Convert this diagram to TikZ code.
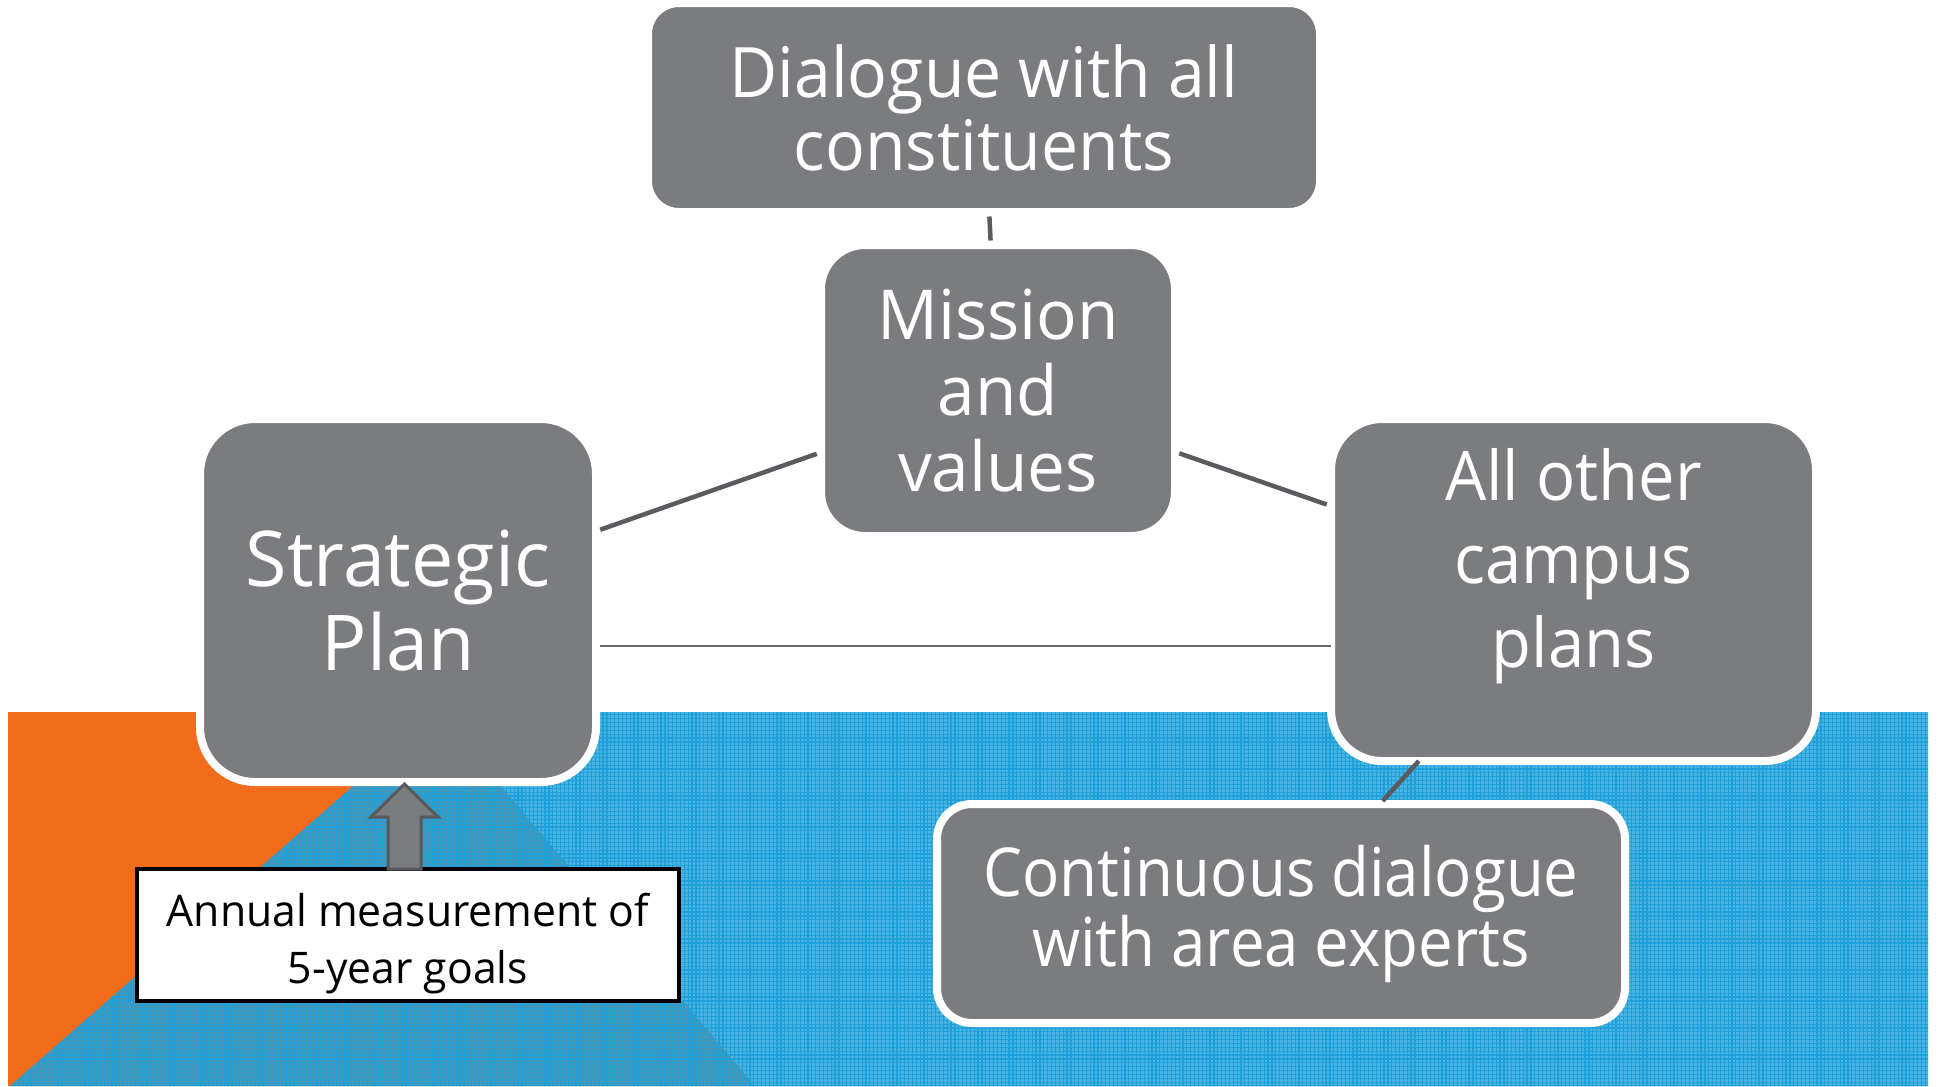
\documentclass[tikz,border=0pt]{standalone}
\usepackage{fontspec}
\setmainfont[FakeStretch=0.98]{Open Sans}
\newfontfamily\narrowfont[FakeStretch=0.95]{Open Sans}
\newfontfamily\narrowerfont[FakeStretch=0.915]{Open Sans}
\usepackage{tikz}
\usetikzlibrary{calc}
\usetikzlibrary{patterns.meta}

\definecolor{boxgray}{HTML}{7B7C80}
\definecolor{linkgray}{HTML}{5A5B5E}
\definecolor{arrowline}{HTML}{58595B}
\definecolor{bgorange}{HTML}{F36C1B}
\definecolor{bgblue}{HTML}{1EA0DB}

\begin{document}
\begin{tikzpicture}[x=0.1mm,y=-0.1mm]
    \tikzstyle{box}=[
      draw=white,
      line width=0.8mm,
      fill=boxgray,
      text=white,
      align=center,
      inner sep=0pt,
      outer sep=0pt,
    ]
    \tikzstyle{note}=[draw=black, line width=0.4mm, fill=white, align=center,
      inner sep=0pt, outer sep=0pt, minimum width=54.2mm, minimum height=13.2mm,
      font=\fontsize{12.4pt}{16.3pt}\selectfont]
    \tikzstyle{link}=[draw=linkgray, line width=0.45mm, shorten <=0.45mm, shorten >=0.45mm]
    \tikzstyle{thinlink}=[draw=linkgray!90, line width=0.27mm]
    \tikzstyle{blockarrow}=[draw=arrowline, fill=boxgray, line width=0.3mm, line join=miter]

    \useasboundingbox (0,0) rectangle (1940,1086);

    % background band
    \fill[bgorange] (8,712) -- (438,712) -- (755,1086) -- (8,1086) -- cycle;
    \fill[bgblue, fill opacity=0.8] (438,712) -- (1928,712) -- (1928,1086) -- (10,1086) -- cycle;
    \fill[pattern={Lines[angle=0,distance=1.1pt,line width=0.35pt]}, pattern color=bgblue]
      (438,712) -- (1928,712) -- (1928,1086) -- (10,1086) -- cycle;
    \fill[pattern={Lines[angle=90,distance=1.1pt,line width=0.35pt]}, pattern color=bgblue]
      (438,712) -- (1928,712) -- (1928,1086) -- (10,1086) -- cycle;

    \node[box, minimum width=67.2mm, minimum height=20.9mm, rounded corners=3.1mm,
      font=\narrowfont\fontsize{19.8pt}{20.8pt}\selectfont] (dl) at (984,107.5) {Dialogue with all\\constituents};
    \node[box, minimum width=35.4mm, minimum height=29.1mm, rounded corners=4.4mm,
      font=\fontsize{19.6pt}{21.6pt}\selectfont] (mv) at (998,390.5) {Mission\\and\\values};
    \node[box, minimum width=39.6mm, minimum height=36.3mm, rounded corners=5.5mm,
      font=\fontsize{21.9pt}{23.9pt}\selectfont] (sp) at (398,600.5) {Strategic\\Plan};
    \node[box, minimum width=48.5mm, minimum height=34.2mm, rounded corners=5.1mm] (ao) at (1573.5,590) {};
    \node[text=white, align=center, font=\narrowfont\fontsize{19.5pt}{23.8pt}\selectfont] (aotext)
      at ($(ao.center)+(0,-24)$) {All other\\campus\\plans};
    \node[box, minimum width=68.8mm, minimum height=21.9mm, rounded corners=3.5mm,
      font=\narrowerfont\fontsize{19.2pt}{19.9pt}\selectfont] (cd) at (1281,913.5) {Continuous dialogue\\with area experts};
    \node[note] (am) at (408,935) {\rule{0pt}{5.1mm}Annual measurement of\\5-year goals};

    % connectors
    \draw[link] (dl) -- (mv);
    \draw[link] (sp) -- (mv);
    \draw[link] (mv) -- (ao);
    \draw[link, shorten <=0mm, shorten >=0.4mm] (ao) -- (cd);
    \draw[thinlink] ($(sp.east |- 0,646)+(4,0)$) -- (ao.west |- 0,646);

    % measurement arrow
    \draw[blockarrow] ($(am.north)+(-20,0)$) -- ++(0,-52) -- ++(-17,0) -- ++(33.5,-33)
      -- ++(33.5,33) -- ++(-17,0) -- ++(0,52) -- cycle;
\end{tikzpicture}
\end{document}
